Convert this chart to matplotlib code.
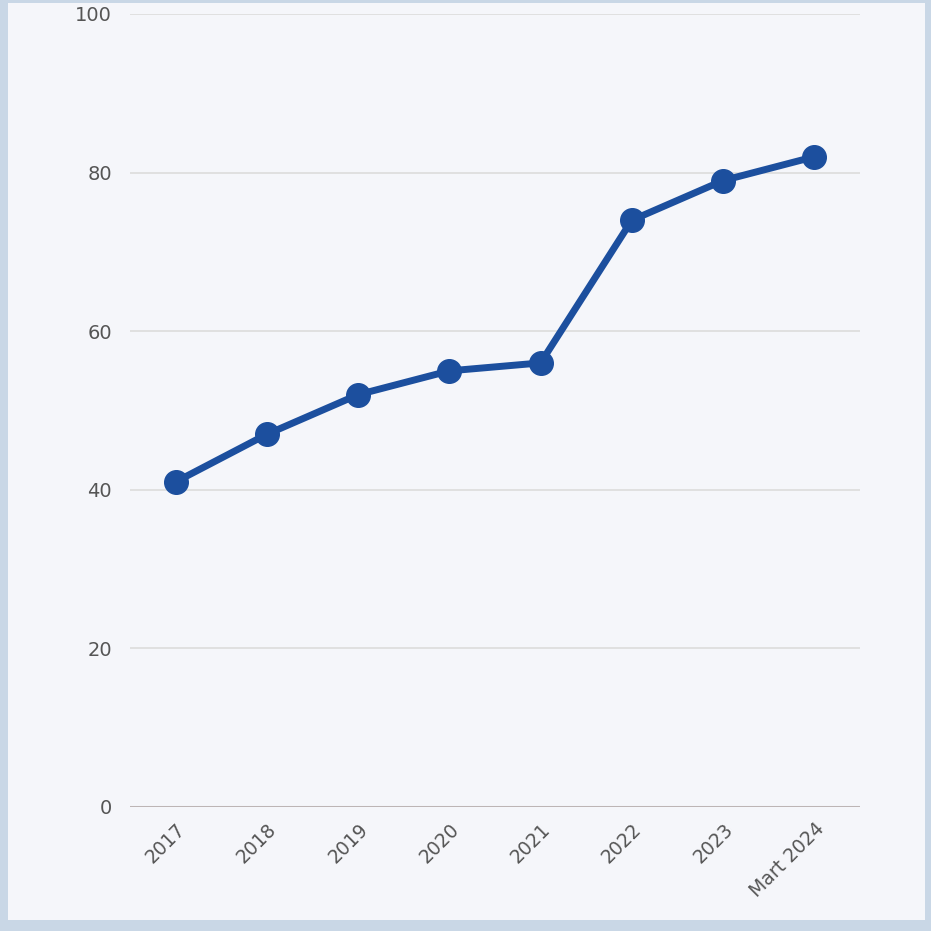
import matplotlib
matplotlib.use("Agg")
import matplotlib.pyplot as plt
from matplotlib.patches import Rectangle

categories = ["2017", "2018", "2019", "2020", "2021", "2022", "2023", "Mart 2024"]
values = [41, 47, 52, 55, 56, 74, 79, 82]
yticks = [0, 20, 40, 60, 80, 100]

fig = plt.figure(figsize=(9.31, 9.31), dpi=100)
fig.patch.set_facecolor("#c9d7e6")
fig.patches.append(Rectangle((8/931, 11/931), 917/931, 917/931, transform=fig.transFigure,
                             facecolor="#f5f6fa", edgecolor="none", zorder=-10))

ax = fig.add_axes([130/931, 124/931, 730/931, 793/931])
ax.set_zorder(5)
ax.set_facecolor("none")
x = list(range(len(categories)))
ax.plot(x, values, color="#1c4f9e", linewidth=5, marker="o", markersize=17,
        solid_capstyle="round", zorder=3, clip_on=False)

ax.set_xlim(-0.5, len(categories) - 0.5)
ax.set_ylim(0, 100)
ax.set_yticks(yticks)
ax.set_xticks(x)
ax.set_xticklabels(categories, rotation=45, ha="right", rotation_mode="anchor")
for y in yticks[1:]:
    ax.axhline(y, color="#dedede", linewidth=1.3, zorder=1)
ax.axhline(0, color="#bdb5b5", linewidth=2.2, zorder=1)
for s in ax.spines.values():
    s.set_visible(False)
ax.tick_params(axis="both", length=0, colors="#555555")
ax.tick_params(axis="y", pad=13, labelsize=14)
ax.tick_params(axis="x", pad=9, labelsize=13.5)

fig.savefig("out.png", dpi=100)
